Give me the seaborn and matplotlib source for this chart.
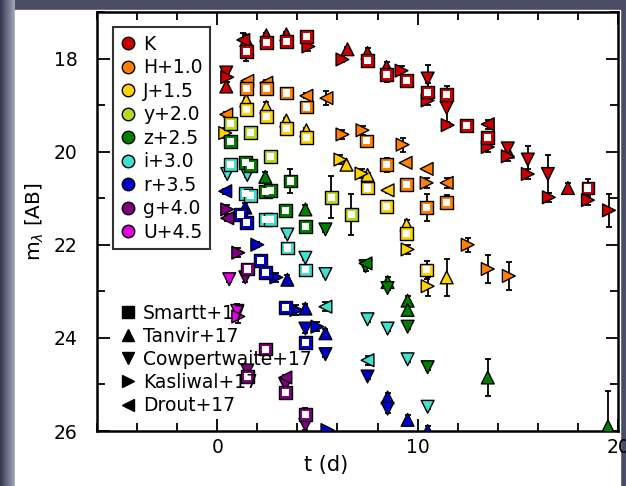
import numpy as np
import pandas as pd
import matplotlib
matplotlib.use("Agg")
import matplotlib.pyplot as plt
import seaborn as sns
from matplotlib.lines import Line2D
from matplotlib.patches import Rectangle
from matplotlib.colors import LinearSegmentedColormap

# bands, offsets and colours
bands = ['K', 'H', 'J', 'y', 'z', 'i', 'r', 'g', 'U']
band_offsets = [0.0, 1.0, 1.5, 2.0, 2.5, 3.0, 3.5, 4.0, 4.5]
band_colors = ['#cc0000', '#ff8000', '#ffd200', '#b4dc1e', '#008000',
               '#40e0d0', '#0000cc', '#800080', '#e000e0']
band_labels = ['K', 'H+1.0', 'J+1.5', 'y+2.0', 'z+2.5', 'i+3.0', 'r+3.5', 'g+4.0', 'U+4.5']

# Smartt+17 (squares)
smartt_t = [1.45, 2.45, 3.45, 4.45, 7.5, 8.45, 9.45, 10.5, 11.45, 12.45, 13.5, 18.5,
            1.45, 2.45, 3.45, 4.45, 7.45, 8.45, 9.45, 10.45, 11.45,
            1.45, 2.45, 3.45, 4.45, 7.5, 8.45, 9.45, 10.45,
            0.65, 1.65, 2.65, 5.7, 6.7,
            0.65, 1.4, 1.65, 2.4, 2.65, 3.65, 3.4, 4.4,
            0.65, 1.4, 1.65, 2.4, 2.65, 3.5, 4.4,
            1.15, 1.45, 2.15, 2.4, 3.4, 4.4,
            1.5, 2.4, 1.5, 3.4, 4.4]
smartt_mag = [17.85, 17.65, 17.63, 17.52, 18.04, 18.35, 18.48, 18.72, 18.78, 19.43, 19.70, 20.78,
              17.65, 17.65, 17.74, 18.04, 18.77, 19.28, 19.70, 20.20, 20.09,
              17.60, 17.74, 18.00, 18.20, 19.28, 19.67, 20.26, 21.04,
              17.39, 17.59, 18.10, 18.98, 19.35,
              17.28, 17.74, 17.80, 18.35, 18.33, 18.13, 18.76, 19.10,
              17.28, 17.90, 17.95, 18.45, 18.45, 19.07, 19.54,
              17.85, 18.02, 18.83, 19.10, 19.85, 20.60,
              18.52, 20.24, 20.83, 21.17, 21.65]
smartt_band = ['K'] * 12 + ['H'] * 9 + ['J'] * 8 + ['y'] * 5 + ['z'] * 8 + ['i'] * 7 + ['r'] * 6 + ['g'] * 5
smartt_err = [0.2, 0.1, 0.1, 0.1, 0.1, 0.15, 0.1, 0.2, 0.2, 0.1, 0.1, 0.2,
              0.1, 0.1, 0.1, 0.1, 0.1, 0.15, 0.1, 0.3, 0.15,
              0.1, 0.1, 0.1, 0.1, 0.1, 0.1, 0.1, 0.2,
              0.1, 0.1, 0.1, 0.45, 0.45,
              0.1, 0.1, 0.1, 0.1, 0.1, 0.25, 0.1, 0.1,
              0.1, 0.1, 0.1, 0.1, 0.1, 0.1, 0.1,
              0.1, 0.1, 0.1, 0.1, 0.1, 0.1,
              0.1, 0.1, 0.1, 0.1, 0.15]

# Tanvir+17 (up triangles)
tanvir_t = [0.45, 1.45, 2.45, 3.45, 6.5, 7.5, 8.45, 14.5, 17.5,
            1.45, 2.45, 3.45, 4.45, 6.45, 7.5, 9.45, 11.45,
            2.4, 4.4, 8.5, 9.5, 9.5, 13.5, 19.5,
            1.4, 3.5, 4.4, 5.4, 8.5, 9.5, 10.5]
tanvir_mag = [18.60, 17.60, 17.50, 17.48, 17.80, 17.88, 18.18, 20.00, 20.78,
              17.40, 17.54, 17.83, 18.04, 18.78, 19.00, 20.07, 21.20,
              18.04, 18.74, 20.30, 20.70, 20.90, 22.35, 23.40,
              17.70, 19.25, 19.87, 20.40, 21.78, 22.26, 22.50]
tanvir_band = ['K'] * 9 + ['J'] * 8 + ['z'] * 7 + ['r'] * 7
tanvir_err = [0.1, 0.1, 0.05, 0.05, 0.05, 0.1, 0.1, 0.1, 0.1,
              0.05, 0.1, 0.05, 0.05, 0.05, 0.05, 0.1, 0.4,
              0.1, 0.1, 0.1, 0.1, 0.1, 0.4, 0.75,
              0.1, 0.1, 0.1, 0.1, 0.1, 0.1, 0.1]

# Cowperthwaite+17 (down triangles)
cowp_t = [0.45, 10.5, 11.45, 14.5, 15.5, 16.5,
          5.4, 7.4, 8.5, 9.5, 10.5,
          0.5, 1.5, 3.5, 4.4, 5.4, 7.5, 8.5, 9.5, 10.5,
          4.4, 5.4, 7.5, 8.5,
          1.4, 1.5, 3.4, 4.4,
          0.6, 1.0]
cowp_mag = [18.30, 18.43, 19.06, 19.93, 20.17, 20.48,
            19.17, 19.96, 20.43, 21.26, 22.13,
            17.48, 17.50, 18.78, 19.28, 19.63, 20.60, 20.80, 21.46, 22.48,
            20.30, 20.85, 21.33, 22.02,
            18.70, 20.70, 21.00, 21.87,
            18.24, 18.92]
cowp_band = ['K'] * 6 + ['z'] * 5 + ['i'] * 9 + ['r'] * 4 + ['g'] * 4 + ['U'] * 2
cowp_err = [0.1, 0.3, 0.3, 0.1, 0.3, 0.4,
            0.05, 0.1, 0.05, 0.05, 0.05,
            0.05, 0.05, 0.05, 0.05, 0.05, 0.05, 0.05, 0.05, 0.05,
            0.1, 0.05, 0.05, 0.1,
            0.1, 0.1, 0.1, 0.1,
            0.05, 0.15]

# Kasliwal+17 (right triangles)
kasl_t = [0.5, 4.55, 6.25, 9.2, 10.5, 11.5, 13.5, 14.5, 15.5, 16.55, 18.5, 19.55,
          6.25, 7.25, 9.25, 10.45, 12.5, 13.5, 14.55,
          0.4, 6.15, 7.2, 9.5, 10.5,
          2.0, 2.95, 3.95, 5.0, 5.5,
          0.5, 1.05,
          1.05]
kasl_mag = [18.40, 17.74, 18.02, 18.26, 18.90, 19.43, 19.90, 20.10, 20.48, 20.98, 21.04, 21.26,
            18.63, 18.54, 18.85, 19.67, 21.00, 21.52, 21.67,
            18.10, 18.67, 18.97, 20.60, 21.39,
            18.50, 19.20, 19.90, 20.26, 22.48,
            17.24, 18.17,
            19.04]
kasl_band = ['K'] * 12 + ['H'] * 7 + ['J'] * 5 + ['r'] * 5 + ['g'] * 2 + ['U']
kasl_err = [0.1, 0.1, 0.05, 0.1, 0.1, 0.05, 0.1, 0.1, 0.1, 0.1, 0.1, 0.35,
            0.1, 0.1, 0.15, 0.1, 0.15, 0.3, 0.3,
            0.1, 0.1, 0.1, 0.1, 0.2,
            0.05, 0.1, 0.1, 0.1, 0.05,
            0.1, 0.1,
            0.15]

# Drout+17 (left triangles)
drout_t = [1.3, 13.5,
           0.45, 1.5, 2.45, 4.45, 5.45, 9.4, 10.45, 11.45,
           8.5, 7.4, 5.4, 7.5, 0.4, 0.5, 3.4]
drout_mag = [17.60, 19.41,
             18.20, 17.48, 17.52, 17.80, 17.85, 19.24, 19.37, 19.67,
             19.33, 19.90, 20.33, 21.48, 17.35, 17.43, 20.85]
drout_band = ['K'] * 2 + ['H'] * 8 + ['J', 'z', 'i', 'i', 'r', 'g', 'g']
drout_err = [0.15, 0.1,
             0.05, 0.05, 0.05, 0.05, 0.15, 0.05, 0.05, 0.1,
             0.05, 0.05, 0.1, 0.1, 0.05, 0.05, 0.05]

offset_map = dict(zip(bands, band_offsets))
color_map = dict(zip(bands, band_colors))


def make_df(t, mag, band, err):
    df = pd.DataFrame({'t': t, 'mag': mag, 'band': band, 'err': err})
    df['m'] = df['mag'] + df['band'].map(offset_map)
    return df


sources = [
    ('Tanvir+17', '^', make_df(tanvir_t, tanvir_mag, tanvir_band, tanvir_err)),
    ('Cowpertwaite+17', 'v', make_df(cowp_t, cowp_mag, cowp_band, cowp_err)),
    ('Kasliwal+17', '>', make_df(kasl_t, kasl_mag, kasl_band, kasl_err)),
    ('Drout+17', '<', make_df(drout_t, drout_mag, drout_band, drout_err)),
    ('Smartt+17', 's', make_df(smartt_t, smartt_mag, smartt_band, smartt_err)),
]

plt.rcParams['font.family'] = ['DejaVu Sans']
fig = plt.figure(figsize=(6.26, 4.86), dpi=100, facecolor='#4a4c66')

# slide-like frame: dark top/right, gradient strip on the left, white panel
bg = fig.add_axes([0, 0, 1, 1], zorder=-10)
side = LinearSegmentedColormap.from_list('side', ['#33354c', '#6c6f88', '#a4a6b8'])
grad = np.linspace(0, 1, 64)
bg.imshow(np.vstack([grad, grad]), aspect='auto', cmap=side, extent=[0, 15 / 626, 0, 1])
bg.add_patch(Rectangle((15 / 626, 0), (620 - 15) / 626, 1 - 10 / 486, color='white', zorder=2))
bg.set_xlim(0, 1)
bg.set_ylim(0, 1)
bg.set_facecolor('#4a4c66')
bg.axis('off')

ax = fig.add_axes([97 / 626, 55 / 486, 521 / 626, 419 / 486])

for name, mk, df in sources:
    ax.errorbar(df['t'], df['m'], yerr=df['err'], fmt='none', ecolor='black',
                elinewidth=1.3, capsize=2.5, capthick=1.3, zorder=2)
    sns.scatterplot(data=df, x='t', y='m', hue='band', palette=color_map, marker=mk,
                    s=85, edgecolor='black', linewidth=1.0, legend=False, ax=ax, zorder=3)
    if mk == 's':
        sns.scatterplot(data=df, x='t', y='m', color='white', marker='s',
                        s=26, edgecolor='none', linewidth=0, legend=False, ax=ax, zorder=4)

ax.set_xlim(-6, 20)
ax.set_ylim(26, 17)
ax.set_xticks([0, 10, 20])
ax.set_xticks(np.arange(-6, 21, 2), minor=True)
ax.set_yticks([18, 20, 22, 24, 26])
ax.set_yticks(np.arange(17, 27, 1), minor=True)
ax.tick_params(which='both', direction='in', top=True, right=True, width=1.3, labelsize=13.5)
ax.tick_params(axis='y', which='both', pad=14)
ax.tick_params(axis='x', which='both', pad=5)
ax.tick_params(which='major', length=9)
ax.tick_params(which='minor', length=6)
for sp in ax.spines.values():
    sp.set_linewidth(1.8)
ax.set_xlabel('t (d)', fontsize=15)
ax.xaxis.set_label_coords(0.44, -0.057)
ax.set_ylabel(r'm$_\lambda$ [AB]', fontsize=14.5)
ax.yaxis.set_label_coords(-0.098, 0.5)

band_handles = [Line2D([], [], marker='o', linestyle='none', markersize=9, markerfacecolor=c,
                       markeredgecolor='black', markeredgewidth=1.0) for c in band_colors]
leg1 = ax.legend(band_handles, band_labels, loc='upper left', bbox_to_anchor=(0.031, 0.964),
                 borderaxespad=0, fontsize=13.5, frameon=True, fancybox=False, edgecolor='black',
                 handlelength=0.8, handletextpad=0.4, labelspacing=0.24, borderpad=0.4)
leg1.get_frame().set_linewidth(1.5)
ax.add_artist(leg1)

src_names = ['Smartt+17', 'Tanvir+17', 'Cowpertwaite+17', 'Kasliwal+17', 'Drout+17']
src_markers = ['s', '^', 'v', '>', '<']
src_handles = [Line2D([], [], marker=m, linestyle='none', markersize=9, color='black') for m in src_markers]
ax.legend(src_handles, src_names, loc='lower left', bbox_to_anchor=(0.03, 0.02), borderaxespad=0,
          fontsize=13.5, frameon=False, handlelength=0.8, handletextpad=0.4, labelspacing=0.22)

fig.savefig('out.png', dpi=100, facecolor=fig.get_facecolor())
